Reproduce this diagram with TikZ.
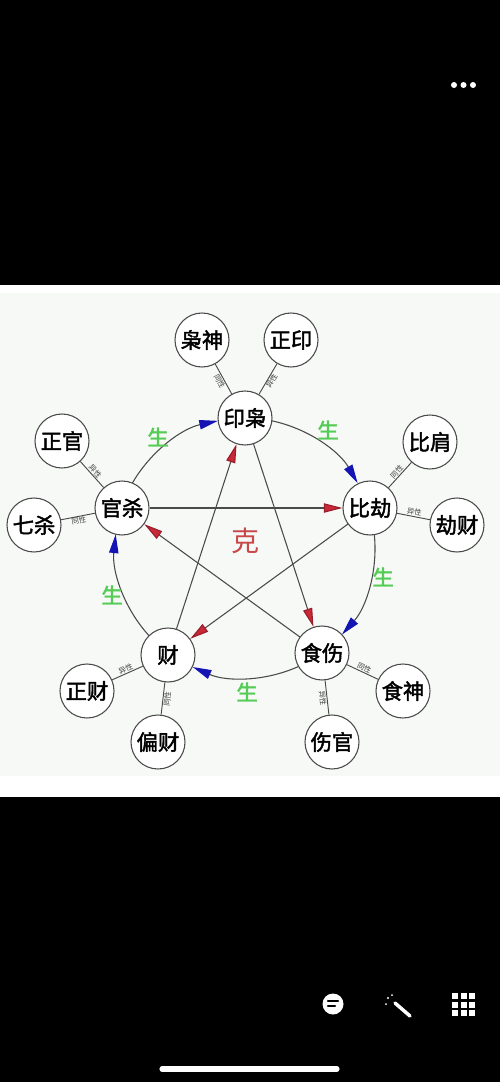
\documentclass[tikz,border=0pt]{standalone}
\usepackage{fontspec}
\newfontfamily\cjk{Noto Sans CJK SC}
\newfontfamily\cjkm{Noto Sans CJK SC}[FakeBold=2]
\usetikzlibrary{arrows.meta}
\definecolor{linegray}{HTML}{4A4A4A}
\definecolor{bgtint}{HTML}{F6F9F6}
\definecolor{arrowblue}{HTML}{1414B4}
\definecolor{arrowred}{HTML}{C82838}
\definecolor{shenggreen}{HTML}{55CC55}
\definecolor{kered}{HTML}{C84848}
\begin{document}
\begin{tikzpicture}[x=0.75pt,y=0.75pt,
  main/.style={circle,draw=linegray,line width=0.8pt,fill=white,minimum size=40.5pt,inner sep=0pt,
    font=\cjkm\fontsize{16}{16}\selectfont},
  sat/.style={main},
  tie/.style={draw=linegray,line width=0.7pt},
  lbl/.style={font=\cjk\fontsize{5.5}{5.5}\selectfont,inner sep=0.4pt,sloped,text=black!75},
  sheng/.style={draw=linegray,line width=0.8pt,
    -{Triangle[length=14pt,width=7pt,color=arrowblue,fill=arrowblue]}},
  ke/.style={draw=linegray,line width=0.8pt,
    -{Triangle[length=14pt,width=7pt,color=arrowred!75!black,fill=arrowred]}},
  shenglbl/.style={text=shenggreen,font=\cjkm\fontsize{16}{16}\selectfont,inner sep=0pt},
  kelbl/.style={text=kered,font=\cjk\fontsize{21}{21}\selectfont,inner sep=0pt},
  uidot/.style={fill=white}
]
\useasboundingbox (0,0) rectangle (500,-1082);
\fill[black] (0,0) rectangle (500,-1082);
\fill[white] (0,-285) rectangle (500,-797);
\fill[bgtint] (0,-293) rectangle (500,-776);

\coordinate (O) at (245,-548);

% main nodes
\node[main] (yx) at (245,-418) {印枭};
\node[main] (gs) at (122,-508) {官杀};
\node[main] (bj) at (370,-508) {比劫};
\node[main] (cai) at (168,-655) {财};
\node[main] (ss) at (322,-653) {食伤};

% satellites
\node[sat] (xs) at (202,-340) {枭神};
\node[sat] (zy) at (291,-340) {正印};
\node[sat] (zg) at (62,-441) {正官};
\node[sat] (qs) at (34,-525) {七杀};
\node[sat] (bjian) at (430,-442) {比肩};
\node[sat] (jc) at (457,-525) {劫财};
\node[sat] (zc) at (87,-691) {正财};
\node[sat] (pc) at (158,-742) {偏财};
\node[sat] (shs) at (403,-691) {食神};
\node[sat] (sg) at (332,-742) {伤官};

% ties
\draw[tie] (yx) -- node[lbl,below]{同性} (xs);
\draw[tie] (yx) -- node[lbl,below]{异性} (zy);
\draw[tie] (gs) -- node[lbl,above]{异性} (zg);
\draw[tie] (gs) -- node[lbl,below]{同性} (qs);
\draw[tie] (bj) -- node[lbl,above]{同性} (bjian);
\draw[tie] (bj) -- node[lbl,above]{异性} (jc);
\draw[tie] (cai) -- node[lbl,above]{异性} (zc);
\draw[tie] (cai) -- node[lbl,below]{同性} (pc);
\draw[tie] (ss) -- node[lbl,above]{同性} (shs);
\draw[tie] (ss) -- node[lbl,below]{异性} (sg);

% generating cycle (arcs of the circle through the five main nodes)
\draw[sheng] (O) ++(150:130) arc[start angle=150,end angle=102,radius=130];
\draw[sheng] (O) ++(78:130) arc[start angle=78,end angle=30,radius=130];
\draw[sheng] (O) ++(5.7:130) arc[start angle=5.7,end angle=-41.7,radius=130];
\draw[sheng] (O) ++(-65.7:130) arc[start angle=-65.7,end angle=-113.7,radius=130];
\draw[sheng] (O) ++(-137.7:130) arc[start angle=-137.7,end angle=-186,radius=130];

% controlling star
\draw[ke] (gs) -- (bj);
\draw[ke] (bj) -- (cai);
\draw[ke] (cai) -- (yx);
\draw[ke] (yx) -- (ss);
\draw[ke] (ss) -- (gs);

% labels
\node[shenglbl] (s1) at (158,-437) {生};
\node[shenglbl] (s2) at (328,-430) {生};
\node[shenglbl] (s3) at (383,-577) {生};
\node[shenglbl] (s4) at (112,-595) {生};
\node[shenglbl] (s5) at (247,-692) {生};
\node[kelbl] (k) at (245,-541) {克};

% phone UI
\fill[uidot] (454,-85) circle[radius=3];
\fill[uidot] (463.5,-85) circle[radius=3];
\fill[uidot] (473,-85) circle[radius=3];
\fill[white] (333,-1004) circle[radius=10.5];
\draw[black,line width=1.6pt,line cap=round] (328,-1001) -- (338,-1001);
\draw[black,line width=1.6pt,line cap=round] (328,-1006) -- (335,-1006);
\draw[white,line width=2.6pt,line cap=round] (395,-1003) -- (410,-1016);
\fill[white] (388,-998) circle[radius=1.2];
\fill[white] (392,-995) circle[radius=1];
\fill[white] (386,-1004) circle[radius=1];
\foreach \i in {0,1,2}{\foreach \j in {0,1,2}{
  \fill[white] ({452+8.7*\i},{-993.3-8.4*\j}) rectangle ++(6,-5.8);}}
\draw[white,line width=3.8pt,line cap=round] (162,-1069) -- (337,-1069);
\end{tikzpicture}
\end{document}
